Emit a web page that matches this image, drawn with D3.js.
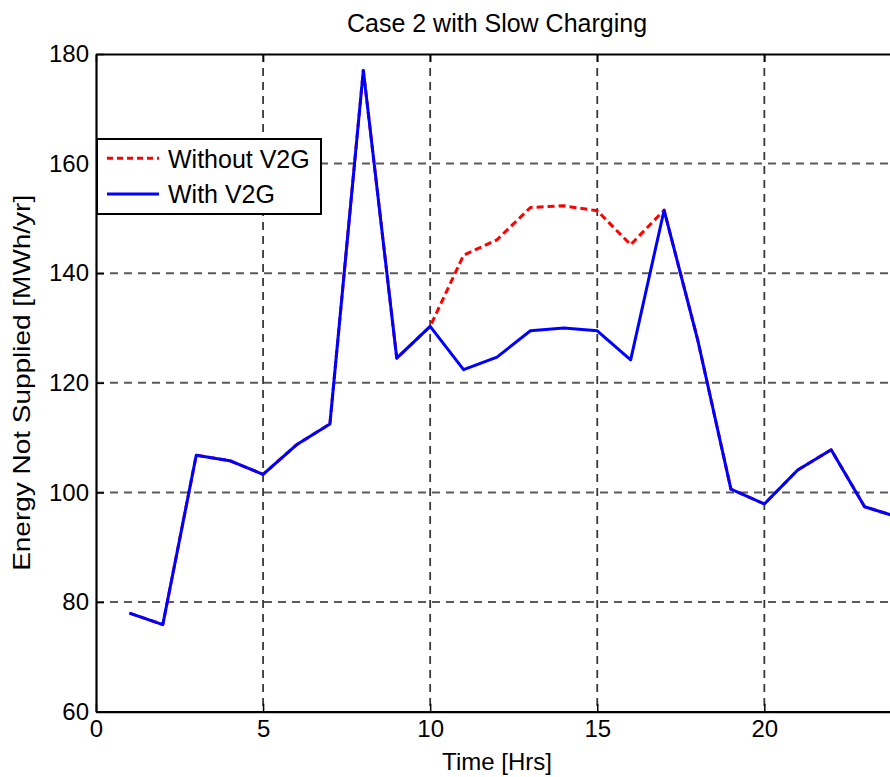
<!DOCTYPE html>
<html>
<head>
<meta charset="utf-8">
<script src="https://cdn.jsdelivr.net/npm/d3@7/dist/d3.min.js"></script>
<style>
  html, body { margin: 0; padding: 0; background: #fff; overflow: hidden; }
  svg { display: block; font-family: "Liberation Sans", Arial, Helvetica, sans-serif; }
</style>
</head>
<body>
<svg id="chart" width="890" height="777"></svg>
<script>
// ---- data ----
const hours = [1,2,3,4,5,6,7,8,9,10,11,12,13,14,15,16,17,18,19,20,21,22,23,24];
const withoutV2G = [78.0,75.9,106.8,105.8,103.3,108.7,112.5,177.0,124.5,130.3,143.3,146.1,152.0,152.3,151.4,145.2,151.5,128.0,100.6,97.9,104.1,107.8,97.4,95.5];
const withV2G    = [78.0,75.9,106.8,105.8,103.3,108.7,112.5,177.0,124.5,130.3,122.4,124.7,129.5,130.0,129.5,124.2,151.5,128.0,100.6,97.9,104.1,107.8,97.4,95.5];
const xTicks = [0,5,10,15,20];
const yTicks = [60,80,100,120,140,160,180];
const seriesNames = ["Without V2G", "With V2G"];
const titleText = "Case 2 with Slow Charging";
const xLabel = "Time [Hrs]";
const yLabel = "Energy Not Supplied [MWh/yr]";

// ---- layout ----
const svg = d3.select("#chart");
const margin = {left: 96, top: 54};
const W = 802, H = 657.7;
const x = d3.scaleLinear().domain([0, 24]).range([0, W]);
const y = d3.scaleLinear().domain([60, 180]).range([H, 0]);

svg.append("defs").append("clipPath").attr("id", "clip")
  .append("rect").attr("x", 0).attr("y", 0).attr("width", W).attr("height", H);

const g = svg.append("g").attr("transform", `translate(${margin.left},${margin.top})`);

// grid
g.append("g").selectAll("line.vg").data(xTicks.filter(d => d > 0)).join("line")
  .attr("x1", d => x(d)).attr("x2", d => x(d)).attr("y1", 0).attr("y2", H)
  .attr("stroke", "#3a3a3a").attr("stroke-width", 1.8).attr("stroke-dasharray", "8,6");
g.append("g").selectAll("line.hg").data(yTicks.filter(d => d > 60 && d < 180)).join("line")
  .attr("x1", 0).attr("x2", W).attr("y1", d => y(d)).attr("y2", d => y(d))
  .attr("stroke", "#5a5a5a").attr("stroke-width", 2).attr("stroke-dasharray", "8,6");

// lines
const line = d3.line().x((d, i) => x(hours[i])).y(d => y(d));
const plot = g.append("g").attr("clip-path", "url(#clip)");
plot.append("path").datum(withoutV2G).attr("d", line)
  .attr("fill", "none").attr("stroke", "#ff0000").attr("stroke-width", 3)
  .attr("stroke-dasharray", "7,4").attr("stroke-linejoin", "round");
plot.append("path").datum(withV2G).attr("d", line)
  .attr("fill", "none").attr("stroke", "#0000ff").attr("stroke-width", 3)
  .attr("stroke-linejoin", "round");

// axes
const fs = "24px";
const ax = g.append("g").attr("transform", `translate(0,${H})`)
  .call(d3.axisBottom(x).tickValues(xTicks).tickSizeInner(-8).tickSizeOuter(0).tickPadding(8).tickFormat(d3.format("d")));
const ay = g.append("g")
  .call(d3.axisLeft(y).tickValues(yTicks).tickSizeInner(-8).tickSizeOuter(0).tickPadding(7).tickFormat(d3.format("d")));
const at = g.append("g")
  .call(d3.axisTop(x).tickValues(xTicks).tickSizeInner(-8).tickSizeOuter(0).tickFormat(""));
const ar = g.append("g").attr("transform", `translate(${W},0)`)
  .call(d3.axisRight(y).tickValues(yTicks).tickSizeInner(-8).tickSizeOuter(0).tickFormat(""));
[ax, ay, at, ar].forEach(a => {
  a.selectAll("path.domain").attr("stroke", "#000").attr("stroke-width", 2.2);
  a.selectAll(".tick line").attr("stroke", "#000").attr("stroke-width", 1.5);
  a.selectAll(".tick text").attr("fill", "#000").style("font-size", fs)
    .style("font-family", '"Liberation Sans", Arial, sans-serif');
});

// title & labels
svg.append("text").attr("x", margin.left + W / 2).attr("y", 32)
  .attr("text-anchor", "middle").style("font-size", "25px").attr("fill", "#000").text(titleText);
svg.append("text").attr("x", margin.left + W / 2).attr("y", 770)
  .attr("text-anchor", "middle").style("font-size", fs).attr("fill", "#000").text(xLabel);
svg.append("text").attr("transform", `translate(30,${margin.top + H / 2}) rotate(-90)`)
  .attr("text-anchor", "middle").style("font-size", fs).attr("fill", "#000")
  .attr("textLength", 376).attr("lengthAdjust", "spacingAndGlyphs").text(yLabel);

// legend
const lg = svg.append("g");
lg.append("rect").attr("x", 97).attr("y", 139).attr("width", 224).attr("height", 75)
  .attr("fill", "#fff").attr("stroke", "#000").attr("stroke-width", 2);
const legendItems = [
  {name: seriesNames[0], color: "#ff0000", dash: "6,4", ly: 158.3, ty: 168.3},
  {name: seriesNames[1], color: "#0000ff", dash: null, ly: 194, ty: 203.3}
];
legendItems.forEach(it => {
  lg.append("line").attr("x1", 107).attr("x2", 159).attr("y1", it.ly).attr("y2", it.ly)
    .attr("stroke", it.color).attr("stroke-width", 3).attr("stroke-dasharray", it.dash);
  lg.append("text").attr("x", 168).attr("y", it.ty).style("font-size", "25px")
    .attr("fill", "#000").text(it.name);
});
</script>
</body>
</html>
